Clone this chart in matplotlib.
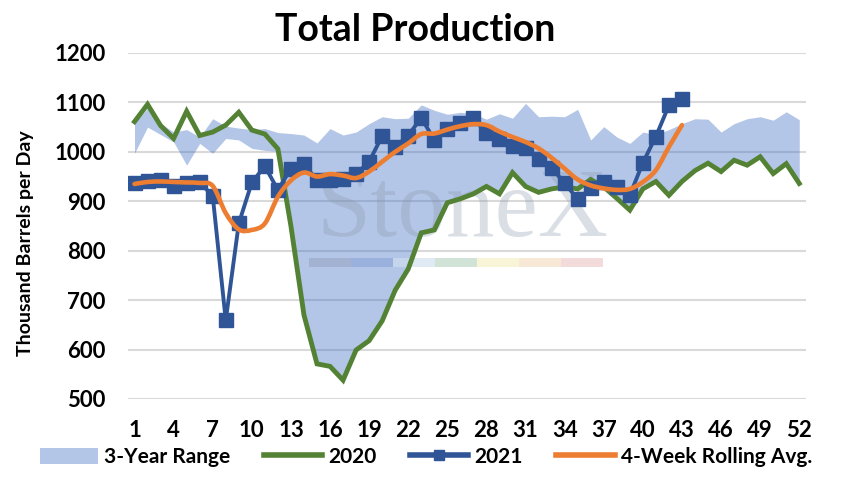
import numpy as np
import matplotlib
matplotlib.use('Agg')
import matplotlib.pyplot as plt
from matplotlib.path import Path
from matplotlib.patches import PathPatch, Patch, Rectangle
from matplotlib.lines import Line2D

plt.rcParams['font.family'] = ['Lato', 'DejaVu Sans']
plt.rcParams['font.weight'] = 'bold'


# data (thousand barrels per day, by week)

weeks = list(range(1, 53))
week_ticks = list(range(1, 53, 3))

range_low = [997, 1050, 1035, 1020, 973, 1017, 997, 1027, 1024, 1007, 1003, 1001,
             850, 670, 571, 566, 538, 599, 618, 658, 720, 763, 836, 842, 897, 905,
             915, 930, 915, 958, 930, 918, 925, 929, 925, 944, 929, 906, 882, 925,
             940, 912, 940, 962, 977, 960, 983, 973, 990, 956, 976, 936]

range_high = [1058, 1088, 1058, 1040, 1045, 1030, 1067, 1052, 1048, 1045, 1047, 1039,
              1037, 1034, 1018, 1047, 1034, 1040, 1057, 1071, 1067, 1068, 1095, 1084,
              1076, 1080, 1077, 1066, 1077, 1068, 1098, 1071, 1072, 1071, 1086, 1024,
              1051, 1030, 1017, 1040, 1035, 1045, 1057, 1067, 1066, 1040, 1057, 1067,
              1071, 1064, 1081, 1065]

prod_2020 = [1061, 1096, 1053, 1027, 1082, 1033, 1040, 1054, 1080, 1044, 1036, 1006,
             850, 670, 571, 566, 538, 599, 618, 658, 720, 763, 836, 842, 897, 905,
             915, 930, 915, 958, 930, 918, 925, 929, 925, 944, 929, 906, 882, 925,
             940, 912, 940, 962, 977, 960, 983, 973, 990, 956, 976, 936]

prod_2021 = [936, 941, 943, 931, 936, 938, 911, 659, 855, 938, 971, 923, 966, 976,
             942, 943, 946, 955, 980, 1032, 1010, 1033, 1069, 1024, 1047, 1058, 1068,
             1038, 1025, 1012, 1008, 986, 968, 936, 905, 926, 939, 928, 912, 978,
             1031, 1094, 1106]

rolling_avg = [935, 939, 940, 939, 938, 937, 931, 876, 843, 842, 855, 909, 942, 958,
               950, 955, 952, 947, 960, 980, 1000, 1017, 1036, 1037, 1045, 1052, 1056,
               1054, 1041, 1030, 1020, 1007, 988, 966, 944, 932, 926, 923, 925, 939,
               963, 1010, 1054]


c_band = '#4472C4'
c_2020 = '#548235'
c_2021 = '#2F5597'
c_avg = '#ED7D31'


def smooth_path(x, y):
    # bezier curve through the points, like the smoothed line in excel
    pts = np.column_stack([x, y]).astype(float)
    verts = [pts[0]]
    codes = [Path.MOVETO]
    n = len(pts)
    for i in range(n - 1):
        p0 = pts[i - 1] if i > 0 else pts[i]
        p1 = pts[i]
        p2 = pts[i + 1]
        p3 = pts[i + 2] if i + 2 < n else pts[i + 1]
        verts += [p1 + (p2 - p0) / 6, p2 - (p3 - p1) / 6, p2]
        codes += [Path.CURVE4] * 3
    return Path(verts, codes)


fig = plt.figure(figsize=(8.42, 4.95), dpi=100)
ax = fig.add_axes([0.152, 0.194, 0.805, 0.699])

ax.fill_between(weeks, range_low, range_high, color=c_band, alpha=0.4,
                linewidth=0, zorder=1)

# watermark
ax.text(26.2, 830, 'StoneX', fontsize=70, family='Liberation Serif',
        weight='normal', color='#8796ab', alpha=0.3, ha='center',
        va='baseline', zorder=1.5)
wm_colors = ['#9aa8c4', '#8ea6d8', '#cfe0f0', '#b9d3c0', '#f3efc4', '#f5dcc0', '#eec8c8']
for i, c in enumerate(wm_colors):
    ax.add_patch(Rectangle((14.4 + i * 3.22, 767), 3.22, 18, color=c, alpha=0.65,
                           linewidth=0, zorder=1.5))

ax.plot(weeks, prod_2020, color=c_2020, linewidth=3.5, zorder=3,
        solid_joinstyle='miter')
ax.plot(weeks[:len(prod_2021)], prod_2021, color=c_2021, linewidth=2.8,
        marker='s', markersize=9.5, zorder=4)
ax.add_patch(PathPatch(smooth_path(weeks[:len(rolling_avg)], rolling_avg),
                       facecolor='none', edgecolor=c_avg, linewidth=3.3,
                       capstyle='round', zorder=5))

ax.set_xlim(0.5, 52.5)
ax.set_ylim(500, 1200)
ax.set_yticks(range(500, 1201, 100))
ax.set_xticks(week_ticks)
ax.grid(axis='y', color='#d9d9d9', linewidth=1.5)
ax.set_axisbelow(True)
for s in ax.spines.values():
    s.set_visible(False)
ax.tick_params(length=0, labelsize=16)
ax.tick_params(axis='y', pad=16)
ax.tick_params(axis='x', pad=15)

ax.set_ylabel('Thousand Barrels per Day', fontsize=14, weight='bold')
ax.yaxis.set_label_coords(-0.138, 0.45)

fig.text(0.493, 0.94, 'Total Production', fontsize=27, weight='bold',
         ha='center', va='center')

handles = [Patch(facecolor=c_band, alpha=0.4, linewidth=0),
           Line2D([], [], color=c_2020, linewidth=4),
           Line2D([], [], color=c_2021, linewidth=4, marker='s', markersize=7),
           Line2D([], [], color=c_avg, linewidth=4)]
labels = ['3-Year Range', '2020', '2021', '4-Week Rolling Avg.']
fig.legend(handles, labels, loc='center', bbox_to_anchor=(0.506, 0.077),
           ncol=4, frameon=False, fontsize=15, handlelength=2.8,
           handletextpad=0.3, columnspacing=1.6, handleheight=0.8)

fig.savefig('out.png', dpi=100)
